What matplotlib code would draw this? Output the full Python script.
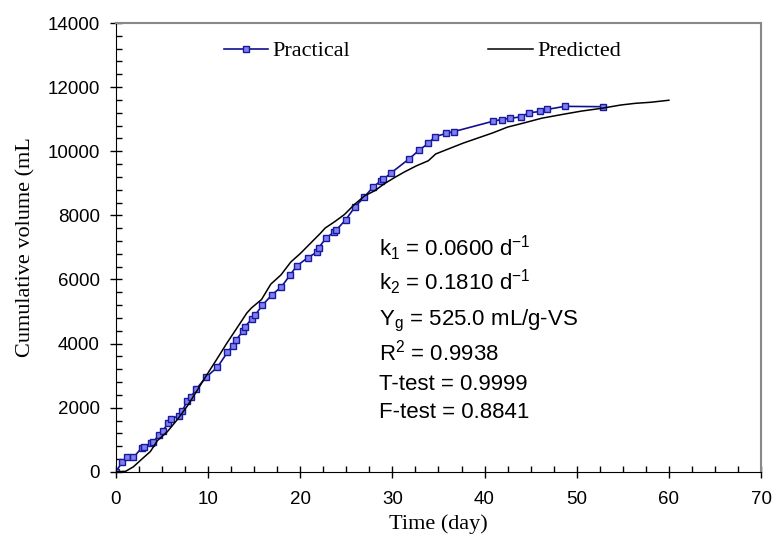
import matplotlib
matplotlib.use("Agg")
import matplotlib.pyplot as plt
from matplotlib.ticker import MultipleLocator

# practical (measured) cumulative volume
prac_t = [0, 0.7, 1.2, 1.9, 2.8, 3.0, 3.8, 4.0, 4.7, 5.1, 5.7, 6.0, 6.8, 7.2,
          7.7, 8.1, 8.7, 9.8, 11.0, 12.1, 12.7, 13.0, 13.8, 14.0, 14.75, 15.1,
          15.9, 16.9, 17.95, 18.9, 19.6, 20.8, 21.8, 22.0, 22.8, 23.7, 23.9,
          24.95, 25.9, 26.9, 27.9, 28.75, 29.0, 29.9, 31.85, 32.9, 33.9, 34.6,
          35.8, 36.7, 40.9, 41.85, 42.8, 43.9, 44.85, 46.0, 46.8, 48.7, 52.8]
prac_v = [0, 320, 450, 450, 750, 770, 900, 920, 1160, 1290, 1530, 1640, 1750,
          1900, 2195, 2320, 2580, 2960, 3260, 3730, 3940, 4100, 4400, 4530,
          4770, 4890, 5200, 5515, 5770, 6140, 6415, 6680, 6850, 6990, 7290,
          7490, 7540, 7870, 8250, 8560, 8880, 9080, 9120, 9335, 9770, 10035,
          10245, 10450, 10555, 10615, 10935, 10990, 11030, 11070, 11200,
          11240, 11305, 11400, 11390]

# model prediction
pred_t = [0, 1.07, 1.9, 2.7, 3.74, 4.5, 5.6, 6.7, 7.75, 8.8, 9.9, 10.96, 12.0,
          13.1, 14.2, 14.7, 15.8, 16.8, 17.9, 18.97, 20.0, 21.1, 22.2, 22.7,
          23.8, 24.8, 25.9, 27.0, 28.1, 29.1, 30.2, 31.3, 32.6, 33.9, 34.7,
          36.1, 37.7, 39.3, 40.9, 42.5, 44.1, 46.2, 48.4, 50.5, 52.65, 54.8,
          56.4, 58.0, 60.0]
pred_v = [0, 20, 160, 370, 636, 975, 1262, 1644, 2057, 2535, 3044, 3521, 3998,
          4475, 4953, 5112, 5377, 5854, 6141, 6544, 6809, 7127, 7445, 7604,
          7816, 8028, 8346, 8612, 8771, 8983, 9174, 9354, 9545, 9704, 9916,
          10075, 10256, 10415, 10574, 10754, 10870, 11030, 11146, 11252,
          11337, 11443, 11496, 11527, 11591]

stats = [r"k$_1$ = 0.0600 d$^{-1}$", r"k$_2$ = 0.1810 d$^{-1}$",
         r"Y$_\mathregular{g}$ = 525.0 mL/g-VS", r"R$^2$ = 0.9938",
         "T-test = 0.9999", "F-test = 0.8841"]
stats_y = [6735, 5674, 4582, 3468, 2567, 1686]

plt.rcParams["mathtext.fontset"] = "custom"
plt.rcParams["mathtext.rm"] = "Liberation Sans"
plt.rcParams["mathtext.it"] = "Liberation Sans"

fig = plt.figure(figsize=(7.73, 5.35), dpi=100)
ax = fig.add_axes([0.150, 0.118, 0.8345, 0.839])

ax.plot(prac_t, prac_v, color="#101090", lw=1.2, marker="s", ms=4.5,
        mfc="#8080f0", mec="#1818a0", mew=1.0, label="Practical")
ax.plot(pred_t, pred_v, color="black", lw=1.1, label="Predicted")

for s, y in zip(stats, stats_y):
    ax.text(28.5, y, s, fontsize=16, family="Liberation Sans", va="baseline")

ax.set_xlim(0, 70)
ax.set_ylim(0, 14000)
ax.xaxis.set_major_locator(MultipleLocator(10))
ax.xaxis.set_minor_locator(MultipleLocator(2.5))
ax.yaxis.set_major_locator(MultipleLocator(2000))
ax.yaxis.set_minor_locator(MultipleLocator(400))
ax.tick_params(which="major", direction="inout", length=9, width=1,
               labelsize=13.5)
ax.tick_params(axis="x", which="major", pad=9)
ax.tick_params(axis="y", which="major", pad=7)
ax.tick_params(which="minor", direction="in", length=4, width=1)
for lab in ax.get_xticklabels() + ax.get_yticklabels():
    lab.set_family("Liberation Sans")

for side in ["top", "right"]:
    ax.spines[side].set_color("#888888")
    ax.spines[side].set_linewidth(1.5)

ax.set_xlabel("Time (day)", family="Liberation Serif", fontsize=16, labelpad=5)
ax.set_ylabel("Cumulative volume (mL", family="Liberation Serif", fontsize=16,
              labelpad=9)

ax.legend(loc="center left", bbox_to_anchor=(0.167, 0.9376), ncol=2,
          frameon=False, borderpad=0, borderaxespad=0, handlelength=2.0,
          handletextpad=0.2, columnspacing=6.2,
          prop={"family": "Liberation Serif", "size": 16})

fig.savefig("out.png", dpi=100)
